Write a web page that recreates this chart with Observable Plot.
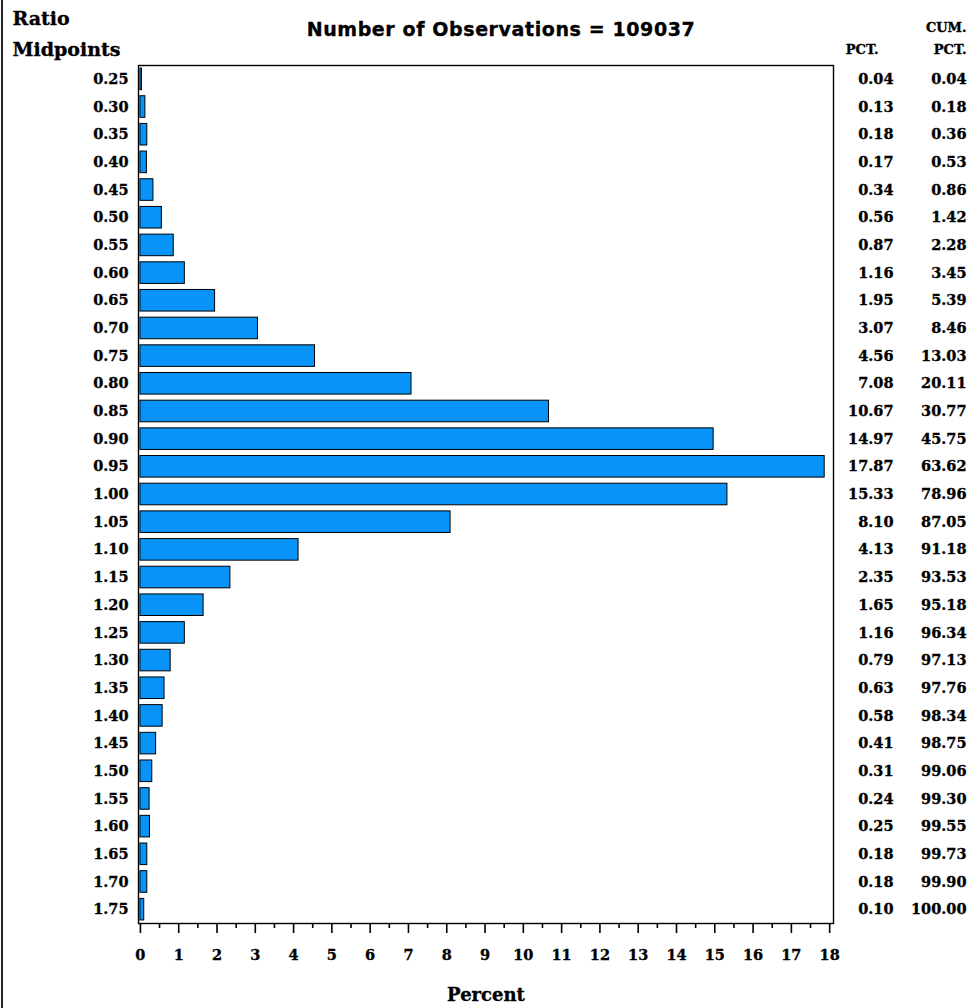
<!DOCTYPE html>
<html>
<head>
<meta charset="utf-8">
<script src="https://cdn.jsdelivr.net/npm/d3@7"></script>
<script src="https://cdn.jsdelivr.net/npm/@observablehq/plot@0.6"></script>
<style>
  html, body { margin: 0; padding: 0; background: white; }
  #wrap { position: relative; width: 973px; height: 1008px; overflow: hidden; }
  #edge { position: absolute; left: 1px; top: 0; width: 2px; height: 1008px; background: #222; }
  #wrap svg text { stroke: #000; stroke-width: 0.35px; }
  #wrap svg g.title-mark text { letter-spacing: 0.6px; }
</style>
</head>
<body>
<div id="wrap"><div id="edge"></div></div>
<script>
const midpoints = ["0.25","0.30","0.35","0.40","0.45","0.50","0.55","0.60","0.65","0.70","0.75","0.80","0.85","0.90","0.95","1.00","1.05","1.10","1.15","1.20","1.25","1.30","1.35","1.40","1.45","1.50","1.55","1.60","1.65","1.70","1.75"];
const pct = [0.04,0.13,0.18,0.17,0.34,0.56,0.87,1.16,1.95,3.07,4.56,7.08,10.67,14.97,17.87,15.33,8.10,4.13,2.35,1.65,1.16,0.79,0.63,0.58,0.41,0.31,0.24,0.25,0.18,0.18,0.10];
const cumPct = [0.04,0.18,0.36,0.53,0.86,1.42,2.28,3.45,5.39,8.46,13.03,20.11,30.77,45.75,63.62,78.96,87.05,91.18,93.53,95.18,96.34,97.13,97.76,98.34,98.75,99.06,99.30,99.55,99.73,99.90,100.00];
const majorTicks = [0,1,2,3,4,5,6,7,8,9,10,11,12,13,14,15,16,17,18];
const minorTicks = [0.5,1.5,2.5,3.5,4.5,5.5,6.5,7.5,8.5,9.5,10.5,11.5,12.5,13.5,14.5,15.5,16.5,17.5];
const titleText = "Number of Observations = 109037";

const data = midpoints.map((m, i) => ({mid: m, pct: pct[i], cum: cumPct[i]}));
const serif = "'DejaVu Serif', serif";
const sans = "'DejaVu Sans', sans-serif";

const chart = Plot.plot({
  width: 973,
  height: 1008,
  marginTop: 65,
  marginBottom: 85,
  marginLeft: 138,
  marginRight: 140,
  style: {fontFamily: serif, fontWeight: "bold", fontSize: "14.5px", background: "white", color: "black"},
  x: {domain: [-0.05, 18.1], axis: null},
  y: {domain: midpoints, paddingInner: 0.22, paddingOuter: 0.11, round: false, axis: null},
  marks: [
    Plot.barX(data, {x: "pct", y: "mid", fill: "#0793f7", stroke: "black", strokeWidth: 1}),
    Plot.frame({stroke: "black", strokeWidth: 1.4}),
    Plot.axisY({tickSize: 0, tickPadding: 10, label: null, fontSize: 14.5}),
    Plot.axisX(majorTicks, {tickSize: 10, tickPadding: 16, label: null, fontSize: 14.5, strokeWidth: 1.6}),
    Plot.axisX(minorTicks, {tickSize: 5, text: null, label: null, strokeWidth: 1.6}),
    Plot.text(data, {y: "mid", text: d => d.pct.toFixed(2), frameAnchor: "right", dx: 60, textAnchor: "end", fontSize: 14.5}),
    Plot.text(data, {y: "mid", text: d => d.cum.toFixed(2), frameAnchor: "right", dx: 133, textAnchor: "end", fontSize: 14.5}),
    Plot.text([titleText], {text: d => d, frameAnchor: "top", dx: 15, dy: -43, fontFamily: sans, fontSize: 19, fontWeight: "bold", className: "title-mark"}),
    Plot.text(["Ratio"], {text: d => d, frameAnchor: "top-left", dx: -126, dy: -54, textAnchor: "start", fontSize: 19}),
    Plot.text(["Midpoints"], {text: d => d, frameAnchor: "top-left", dx: -126, dy: -23, textAnchor: "start", fontSize: 19}),
    Plot.text(["PCT."], {text: d => d, frameAnchor: "top-right", dx: 45, dy: -21, textAnchor: "end", fontSize: 13}),
    Plot.text(["CUM."], {text: d => d, frameAnchor: "top-right", dx: 133, dy: -43, textAnchor: "end", fontSize: 13}),
    Plot.text(["PCT."], {text: d => d, frameAnchor: "top-right", dx: 133, dy: -21, textAnchor: "end", fontSize: 13}),
    Plot.text(["Percent"], {text: d => d, frameAnchor: "bottom", dy: 77, fontSize: 18})
  ]
});
document.getElementById("wrap").appendChild(chart);
</script>
</body>
</html>
